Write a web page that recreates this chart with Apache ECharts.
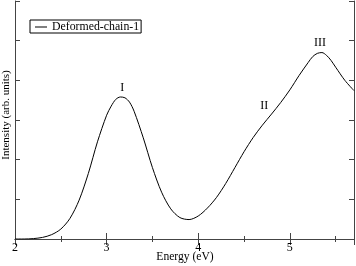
<!DOCTYPE html>
<html><head><meta charset="utf-8">
<script src="https://cdn.jsdelivr.net/npm/echarts@6/dist/echarts.min.js"></script>
<style>html,body{margin:0;padding:0;background:#fff}#c{width:356px;height:266px}</style>
</head><body><div id="c"></div>
<script>
var energy = [2.0,2.1,2.2,2.3,2.4,2.5,2.6,2.7,2.8,2.9,3.0,3.05,3.1,3.15,3.2,3.25,3.3,3.4,3.5,3.6,3.7,3.8,3.9,4.0,4.1,4.2,4.3,4.4,4.5,4.6,4.7,4.8,4.9,5.0,5.1,5.2,5.25,5.3,5.35,5.4,5.45,5.5,5.6,5.7];
var intensity = [0.00,0.00,0.01,0.04,0.11,0.25,0.52,0.98,1.65,2.45,3.12,3.35,3.52,3.58,3.56,3.45,3.22,2.55,1.80,1.18,0.76,0.54,0.49,0.58,0.78,1.05,1.40,1.80,2.20,2.56,2.87,3.15,3.44,3.76,4.12,4.45,4.60,4.68,4.70,4.63,4.50,4.33,4.00,3.74];
var peakNames = ['I','II','III'];
var peakX = [3.17,4.72,5.33];
var peakY = [3.82,3.35,4.95];
var xTicks = [2,3,4,5];
var xTitle = 'Energy (eV)';
var yTitle = 'Intensity (arb. units)';
var legendName = 'Deformed-chain-1';

var chart = echarts.init(document.getElementById('c'));
var font = '"Liberation Serif","Times New Roman",serif';
var axLine = {show:true, lineStyle:{color:'#444', width:1}};
function xAx(pos, labels){
  return {type:'value', min:2, max:5.7, interval:1, position:pos,
    axisLine:axLine, splitLine:{show:false},
    axisTick:{show:true, inside:true, length:6, lineStyle:{color:'#444'}},
    minorTick:{show:true, splitNumber:2, length:3, lineStyle:{color:'#444'}},
    axisLabel:{show:labels, color:'#000', fontFamily:font, fontSize:12, margin:3,
      formatter:function(v){return xTicks.indexOf(v)>=0 ? String(v) : '';}}};
}
function yAx(pos){
  return {type:'value', min:0, max:6, interval:1, position:pos,
    axisLine:axLine, splitLine:{show:false},
    axisTick:{show:true, inside:true, length:5, lineStyle:{color:'#444'}},
    axisLabel:{show:false}};
}
chart.setOption({
  animation:false,
  grid:{left:15, right:2, top:1, bottom:27, containLabel:false, outerBoundsMode:'none'},
  xAxis:[xAx('bottom', true), xAx('top', false)],
  yAxis:[yAx('left'), yAx('right')],
  legend:{left:30, top:20, orient:'vertical', padding:[1,2,0,5], itemGap:0,
    itemWidth:12, itemHeight:10, borderColor:'#000', borderWidth:1, borderRadius:0,
    textStyle:{color:'#000', fontFamily:font, fontSize:11.8},
    data:[{name:legendName, icon:'path://M0,5L12,5L12,6L0,6Z'}]},
  series:[{name:legendName, type:'line', smooth:0.3, symbol:'none',
    data: energy.map(function(e,i){return [e, intensity[i]];}),
    lineStyle:{color:'#000', width:1}, itemStyle:{color:'#000'}}]
});
var g = [];
for (var i=0;i<peakNames.length;i++){
  var p = chart.convertToPixel({xAxisIndex:0, yAxisIndex:0}, [peakX[i], peakY[i]]);
  g.push({type:'text', x:p[0], y:p[1], style:{text:peakNames[i], fill:'#000',
    font:'12px '+font, align:'center', verticalAlign:'middle'}});
}
g.push({type:'text', x:185, y:257, style:{text:xTitle, fill:'#000', font:'11.6px '+font, align:'center', verticalAlign:'middle'}});
g.push({type:'text', x:6, y:115, rotation:Math.PI/2, style:{text:yTitle, fill:'#000', font:'11px '+font, align:'center', verticalAlign:'middle'}});
chart.setOption({graphic:g});
</script></body></html>
